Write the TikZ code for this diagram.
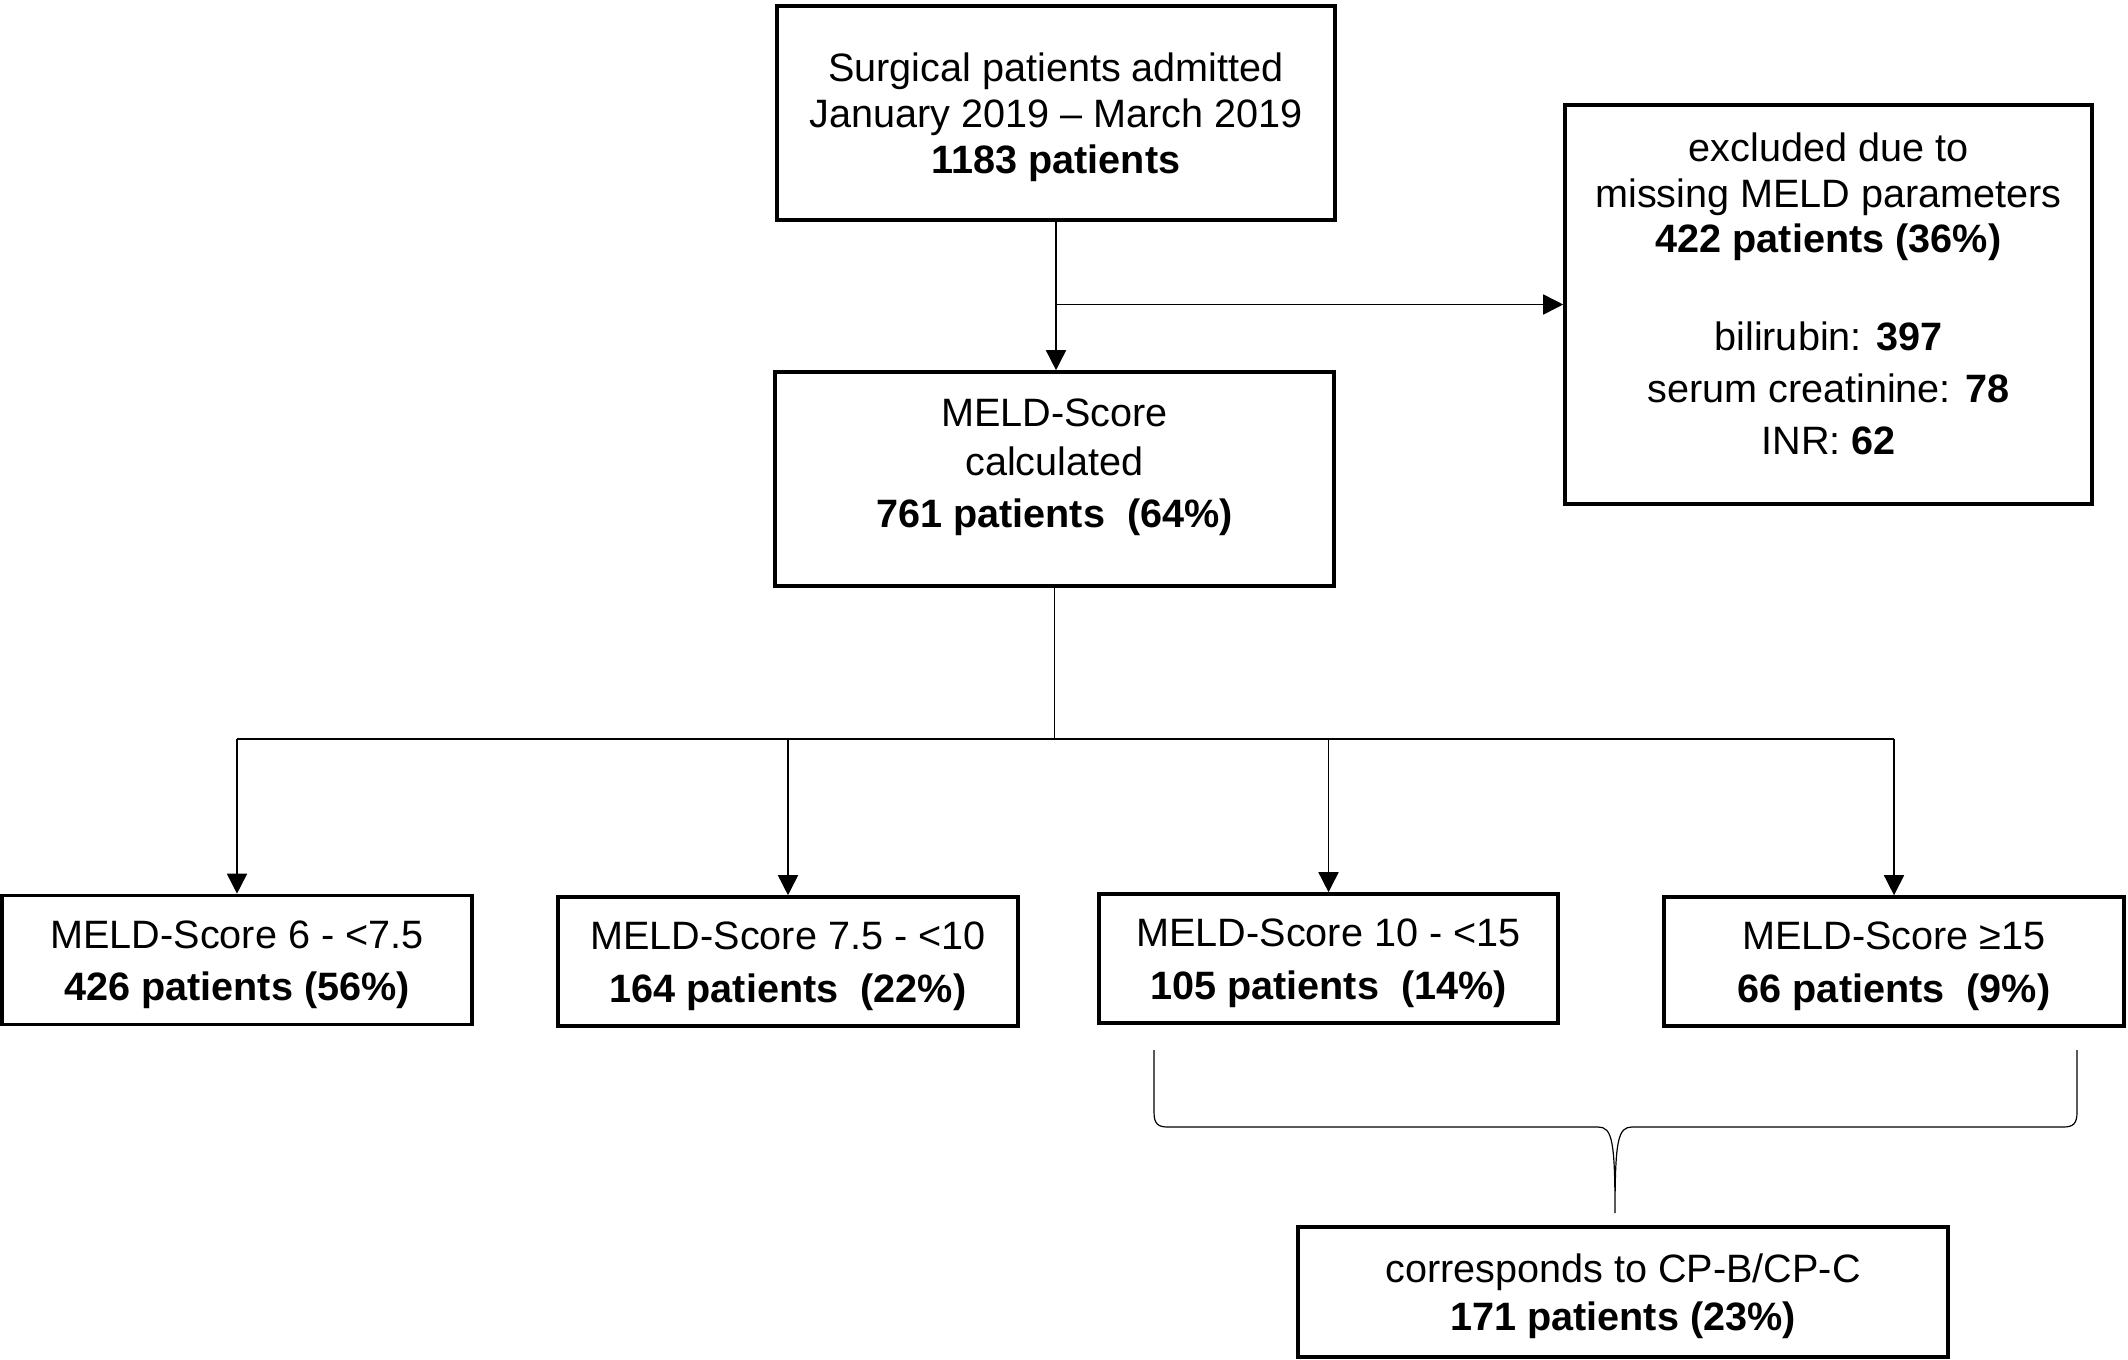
\documentclass[tikz,border=0pt]{standalone}
\usepackage{fontspec}
\setmainfont{Liberation Sans}
\usetikzlibrary{arrows.meta}
\def\upstrut{\rule{0pt}{18.5pt}}

\begin{document}
\begin{tikzpicture}[x=0.5pt,y=-0.5pt,
	box/.style={draw,line width=1.8pt,inner sep=0pt,align=center,font=\fontsize{19.8pt}{22.9pt}\selectfont},
	scorebox/.style={box,minimum width=230pt,minimum height=64.5pt},
	arrow/.style={line width=0.8pt,-{Triangle[length=10pt,width=10pt]}},
	bracket/.style={line width=0.6pt}]
			%%%%% START %%%%%
			\def\ysplit{739}
			\def\yrow{960}
			\def\ybrace{1127}
			\def\ybtop{1050}
			\def\ybtip{1213}
			\def\xbl{1154}
			\def\xbm{1615}
			\def\xbr{2077}
			
			\useasboundingbox (0,0) rectangle (2128,1359);
			
			\node[box,minimum width=279pt,minimum height=107pt] (admitted) at (1056,113)
				{\upstrut Surgical patients admitted\\January 2019 – March 2019\\\textbf{1183 patients}};
			\node[box,minimum width=279.5pt,minimum height=107pt] (calculated) at (1054.5,479)
				{MELD-Score\\[1.5pt]calculated\\[3pt]\textbf{761 patients\ \ (64\%)}\rule[-16pt]{0pt}{0pt}};
			\node[box,minimum width=263.5pt,minimum height=199.5pt] (excluded) at (1828.5,304.5)
				{excluded due to\\missing MELD parameters\\\textbf{422 patients (36\%)}\\[26pt]bilirubin: \textbf{397}\\[3pt]serum creatinine: \textbf{78}\\[3pt]INR: \textbf{62}\rule[-11pt]{0pt}{0pt}};
			
			\node[scorebox,minimum width=235pt] (low) at (237,\yrow)
				{\upstrut MELD-Score 6 - <7.5\\[3.5pt]\textbf{426 patients (56\%)}};
			\node[scorebox] (mid) at (788,\yrow+1.5)
				{\upstrut MELD-Score 7.5 - <10\\[3.5pt]\textbf{164 patients\ \ (22\%)}};
			\node[scorebox,minimum width=229.5pt] (high) at (1328.5,\yrow-1.5)
				{\upstrut MELD-Score 10 - <15\\[3.5pt]\textbf{105 patients\ \ (14\%)}};
			\node[scorebox] (top) at (1894,\yrow+1.5)
				{\upstrut MELD-Score ≥15\\[3.5pt]\textbf{66 patients\ \ (9\%)}};
			
			\node[box,minimum width=325pt,minimum height=65pt] (cpbc) at (1623,1292)
				{\upstrut corresponds to CP-B/CP-C\\[1.5pt]\textbf{171 patients (23\%)}};
			
			\draw[arrow] (admitted.south) -- (admitted.south |- calculated.north);
			\draw[arrow] (admitted.south |- excluded.west) -- (excluded.west);
			
			\coordinate (split) at (calculated.south |- 0,\ysplit);
			\draw[line width=0.8pt] (calculated.south) -- (split);
			\draw[line width=0.8pt] (low.north |- split) -- (top.north |- split);
			\draw[arrow] (low.north |- split) -- (low.north);
			\draw[arrow] (mid.north |- split) -- (mid.north);
			\draw[arrow] (high.north |- split) -- (high.north);
			\draw[arrow] (top.north |- split) -- (top.north);
			
			\draw[bracket] (\xbl,\ybtop) -- (\xbl,\ybrace-15)
				.. controls (\xbl,\ybrace-3) and (\xbl+4,\ybrace) .. (\xbl+14,\ybrace)
				-- (\xbm-17,\ybrace)
				.. controls (\xbm-3,\ybrace) and (\xbm,\ybrace+13) .. (\xbm,\ybtip)
				.. controls (\xbm,\ybrace+13) and (\xbm+3,\ybrace) .. (\xbm+17,\ybrace)
				-- (\xbr-14,\ybrace)
				.. controls (\xbr-4,\ybrace) and (\xbr,\ybrace-3) .. (\xbr,\ybrace-15)
				-- (\xbr,\ybtop);
			%%%%% END %%%%%
\end{tikzpicture}
\end{document}
